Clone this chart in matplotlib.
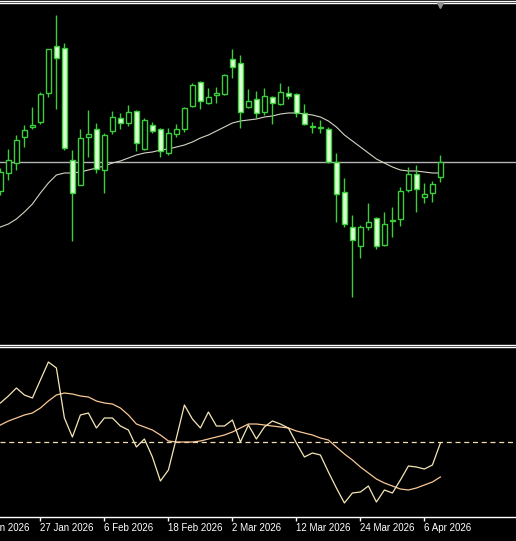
import matplotlib
matplotlib.use('Agg')
import matplotlib.pyplot as plt
import numpy as np

# bar index -> candle values (arbitrary price units)
bar_open = [109, 127, 137, 163, 173, 178, 207, 254, 252, 140,
            115, 163, 171, 130, 169, 182, 177, 189, 151, 175,
            171, 147, 166, 171, 194, 218, 197, 205, 206, 241,
            237, 193, 201, 188, 203, 196, 207, 206, 187, 174,
            172, 171, 138, 108, 73, 54, 73, 82, 55, 79,
            81, 110, 126, 103, 107, 123]
bar_high = [132, 151, 165, 175, 193, 208, 251, 285, 257, 150,
            171, 190, 177, 167, 189, 187, 195, 190, 182, 178,
            172, 172, 176, 193, 217, 219, 212, 213, 226, 251,
            245, 211, 209, 212, 204, 217, 214, 207, 196, 178,
            180, 173, 147, 122, 85, 75, 97, 83, 88, 93,
            113, 133, 135, 117, 119, 145]
bar_low = [105, 120, 130, 153, 171, 176, 203, 191, 150, 59,
           115, 143, 127, 107, 166, 171, 174, 149, 150, 167,
           143, 145, 163, 168, 193, 191, 196, 197, 205, 222,
           172, 192, 182, 185, 176, 195, 201, 183, 175, 167,
           167, 137, 78, 73, 3, 42, 70, 51, 54, 63,
           74, 108, 88, 97, 98, 118]
bar_close = [128, 140, 160, 170, 175, 206, 251, 242, 152, 107,
             162, 166, 131, 165, 183, 177, 188, 157, 180, 169,
             149, 167, 171, 192, 215, 199, 203, 207, 225, 233,
             188, 199, 187, 204, 197, 208, 204, 187, 176, 173,
             173, 138, 106, 76, 60, 73, 78, 54, 76, 80,
             109, 126, 111, 106, 116, 138]
ma_line = [73, 76, 81, 88, 96, 107, 117, 125, 127, 127,
           128, 130, 132, 134, 137, 139, 142, 145, 147, 148,
           150, 151, 153, 155, 158, 162, 165, 169, 173, 177,
           179, 180, 181, 183, 184, 186, 187, 187, 186, 185,
           183, 179, 173, 165, 159, 153, 147, 141, 137, 133,
           130, 129, 129, 128, 127, 127]
hline_level = 138

# lower window
osc_main = [117, 124, 132, 125, 122, 140, 158, 152, 102, 83,
            105, 107, 92, 102, 102, 94, 90, 73, 81, 63,
            39, 50, 82, 115, 101, 92, 108, 94, 94, 100,
            78, 95, 81, 93, 99, 96, 92, 77, 63, 67,
            65, 48, 32, 17, 27, 28, 34, 18, 30, 27,
            40, 54, 53, 51, 55, 77]
osc_signal = [95, 99, 102, 105, 107, 112, 119, 125, 127, 126,
              124, 123, 119, 117, 116, 112, 105, 96, 93, 90,
              85, 79, 78, 78, 78, 79, 81, 83, 85, 88,
              92, 96, 96, 95, 94, 93, 92, 89, 87, 85,
              82, 80, 73, 66, 60, 53, 47, 41, 37, 34,
              31, 30, 32, 35, 38, 43]
osc_level = 78

tick_bars = [-3, 5, 13, 21, 29, 37, 45, 53]
tick_labels = ['14 Jan 2026', '27 Jan 2026', '6 Feb 2026', '18 Feb 2026',
               '2 Mar 2026', '12 Mar 2026', '24 Mar 2026', '6 Apr 2026']

W, H = 516, 541
fig = plt.figure(figsize=(W / 100, H / 100), dpi=100, facecolor='black')

def px_axes(top, bottom):
    return fig.add_axes([0, (H - bottom) / H, 1, (bottom - top) / H])

ax = px_axes(4, 343)
ax2 = px_axes(348, 517)
for a in (ax, ax2):
    a.set_facecolor('black')
    a.set_xlim(-0.05, 64.45)
    for s in a.spines.values():
        s.set_visible(False)
    a.set_yticks([])
    a.set_xticks([])

x = np.arange(len(bar_open))
o = np.array(bar_open)
c = np.array(bar_close)
green = '#3ccc3c'

# candles
ax.plot(x, ma_line, color='#d4d4c4', lw=0.8, zorder=2)
ax.axhline(hline_level, color='#b4b4b4', lw=1, zorder=1)
ax.vlines(x, bar_low, bar_high, color=green, lw=1, zorder=3)
fills = np.where(c >= o, 'black', '#dcffd4')
ax.bar(x, c - o, bottom=o, width=0.6, color=fills, edgecolor=green,
       linewidth=1, zorder=4)
ax.set_ylim(-43, 296)

# oscillator
ax2.axhline(osc_level, color='#f0dcb4', lw=0.9, ls=(0, (4, 3)), zorder=1)
ax2.plot(x, osc_signal, color='#f8c896', lw=0.9, zorder=2)
ax2.plot(x, osc_main, color='#f4e6b4', lw=0.9, zorder=3)
ax2.set_ylim(3, 172)

# time axis
ax2.spines['bottom'].set_visible(True)
ax2.spines['bottom'].set_color('white')
ax2.spines['bottom'].set_linewidth(1)
ax2.set_xticks([b for b in tick_bars if b >= 0])
ax2.tick_params(axis='x', colors='white', length=3, width=1, labelbottom=False)
for b, lab in zip(tick_bars, tick_labels):
    ax2.text(b, -0.035, lab, transform=ax2.get_xaxis_transform(),
             color='white', fontsize=7, family='Liberation Sans',
             ha='left', va='top', clip_on=False)

# window frame lines
for y in (0.5, 2.5, 344.5, 346.5):
    fig.add_artist(plt.Line2D([0, 1], [1 - y / H, 1 - y / H], color='white',
                              lw=1, transform=fig.transFigure))
fig.add_artist(plt.Line2D([440 / W], [1 - 5 / H], marker='v', color='#909090',
                          markersize=5, transform=fig.transFigure))

fig.savefig('out.png', dpi=100, facecolor='black')
